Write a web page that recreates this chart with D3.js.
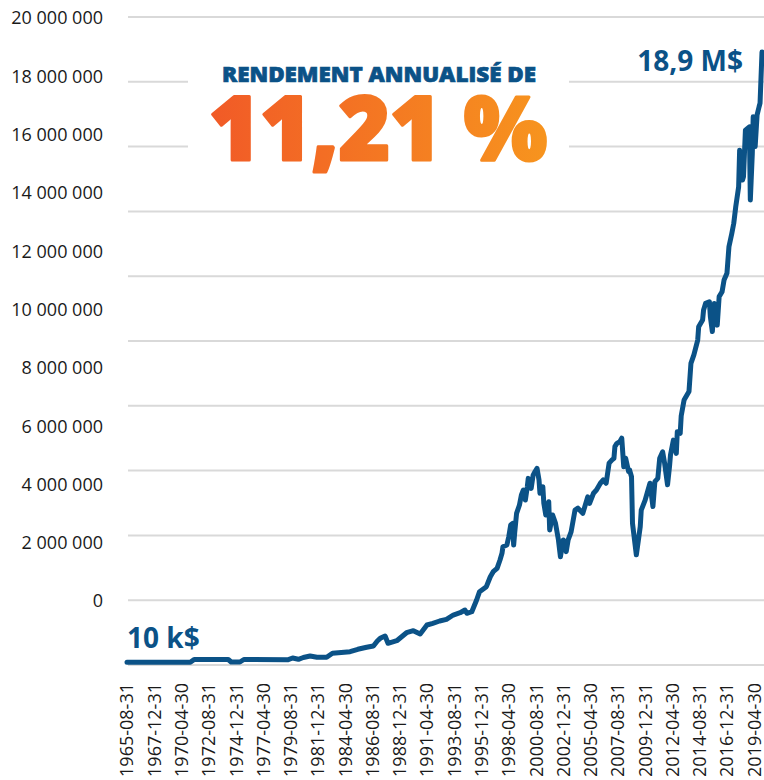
<!DOCTYPE html>
<html><head><meta charset="utf-8">
<script src="https://cdn.jsdelivr.net/npm/d3@7"></script>
<style>body{margin:0;background:#fff} svg{display:block}</style>
</head><body><svg id="c" width="764" height="780"></svg>
<script>
const months = ["1965-08","1968-06","1971-01","1971-05","1974-04","1974-07","1975-04","1975-08","1979-05","1979-10",
"1980-04","1980-09","1981-04","1981-11","1982-09","1983-03","1984-09","1985-05","1986-02","1986-09",
"1987-01","1987-04","1987-09","1987-12","1988-09","1989-07","1990-02","1990-09","1991-04","1991-10",
"1992-05","1992-12","1993-07","1994-02","1994-07","1994-09","1995-02","1995-07","1995-10","1996-05",
"1996-09","1996-12","1997-04","1997-07","1997-09","1997-10","1998-02","1998-04","1998-06","1998-08",
"1998-09","1998-10","1998-12","1999-03","1999-05","1999-07","1999-09","1999-11","1999-12","2000-03",
"2000-05","2000-07","2000-09","2000-11","2000-12","2001-03","2001-04","2001-06","2001-09","2001-10",
"2002-01","2002-04","2002-07","2002-09","2002-12","2003-03","2003-05","2003-08","2003-12","2004-03",
"2004-08","2005-01","2005-03","2005-07","2005-10","2006-02","2006-05","2006-08","2006-11","2007-02",
"2007-04","2007-05","2007-07","2007-10","2007-12","2008-02","2008-04","2008-07","2008-08","2008-10",
"2008-11","2009-03","2009-07","2009-08","2009-12","2010-03","2010-05","2010-08","2010-10","2011-01",
"2011-03","2011-06","2011-08","2011-11","2012-01","2012-02","2012-05","2012-08","2012-09","2012-12",
"2013-01","2013-04","2013-09","2013-11","2014-02","2014-06","2014-07","2014-11","2014-12","2015-02",
"2015-06","2015-07","2015-09","2015-11","2015-12","2016-02","2016-04","2016-07","2016-09","2016-12",
"2017-02","2017-05","2017-07","2017-09","2017-12","2018-01","2018-04","2018-05","2018-07","2018-11",
"2018-12","2019-02","2019-03","2019-05","2019-07","2019-09","2019-10","2019-12"];
const values = [83000,83000,83000,170000,170000,93000,93000,170000,160000,216000,
176000,231000,278000,238000,238000,361000,410000,485000,546000,586000,
741000,824000,895000,670000,750000,997000,1059000,957000,1235000,1287000,
1358000,1410000,1543000,1614000,1697000,1596000,1645000,2006000,2262000,2417000,
2725000,2880000,2984000,3241000,3447000,3651000,3704000,3960000,4320000,4370000,
3700000,4060000,4680000,4940000,5250000,5400000,5090000,5500000,5760000,5450000,
5860000,5970000,6070000,5710000,5300000,5500000,4990000,4630000,5040000,4170000,
4630000,4370000,3860000,3340000,3860000,3500000,3860000,4110000,4780000,4840000,
4680000,5190000,4990000,5300000,5400000,5610000,5710000,5610000,6230000,6330000,
6380000,6740000,6840000,6890000,7000000,6120000,6380000,5970000,6020000,5810000,
4370000,3400000,4270000,4780000,5090000,5400000,5610000,4890000,5660000,5760000,
6380000,6580000,6230000,5560000,6120000,6480000,6940000,6530000,7200000,7150000,
7690000,8180000,8440000,9310000,9570000,10030000,10440000,10650000,10960000,11160000,
11210000,10750000,10290000,11160000,11060000,10490000,11370000,11520000,11880000,12090000,
12910000,13320000,13630000,14140000,14760000,15890000,14970000,15070000,16510000,16610000,
14350000,15790000,16920000,16000000,16980000,17230000,17340000,18920000];
const yTicks = [0,2000000,4000000,6000000,8000000,10000000,12000000,14000000,16000000,18000000,20000000];
const xTickLabels = ["1965-08-31","1967-12-31","1970-04-30","1972-08-31","1974-12-31","1977-04-30",
"1979-08-31","1981-12-31","1984-04-30","1986-08-31","1988-12-31","1991-04-30","1993-08-31",
"1995-12-31","1998-04-30","2000-08-31","2002-12-31","2005-04-30","2007-08-31","2009-12-31",
"2012-04-30","2014-08-31","2016-12-31","2019-04-30"];
const titleText = "RENDEMENT ANNUALISÉ DE";
const bigText = "11,21 %";
const startText = "10 k$";
const endText = "18,9 M$";

const svg = d3.select("#c");
const parseM = d3.timeParse("%Y-%m");
const parseD = d3.timeParse("%Y-%m-%d");
const data = months.map((m, i) => ({date: parseM(m), value: values[i]}));

const x = d3.scaleTime().domain([parseM("1965-08"), parseM("2019-12")]).range([127, 762]);
const y = d3.scaleLinear().domain([0, 20000000]).range([665, 17]);
const yLab = d3.scaleLinear().domain([0, 20000000]).range([601, 18]);
const fmt = d3.formatLocale({decimal: ",", thousands: " ", grouping: [3], currency: ["", "$"]}).format(",d");

const FONT = "'Open Sans', 'Noto Sans', sans-serif";
const BLUE = "#0b5287";

// gradient
const defs = svg.append("defs");
const grad = defs.append("linearGradient").attr("id", "og").attr("x1", "0").attr("x2", "1").attr("y1", "0").attr("y2", "0");
grad.append("stop").attr("offset", "0").attr("stop-color", "#f15a27");
grad.append("stop").attr("offset", "1").attr("stop-color", "#f7941e");

// gridlines
svg.append("g").selectAll("line").data(yTicks).join("line")
  .attr("x1", 128).attr("x2", 764)
  .attr("y1", d => y(d)).attr("y2", d => y(d))
  .attr("stroke", "#d9d9d9").attr("stroke-width", 2);

// y labels
svg.append("g").selectAll("text").data(yTicks).join("text")
  .attr("x", 103).attr("y", d => yLab(d)).attr("dy", "0.36em")
  .attr("text-anchor", "end")
  .attr("font-family", FONT).attr("font-size", 18).attr("fill", "#1a1a1a")
  .text(d => fmt(d));

// x labels
const xg = svg.append("g");
xg.selectAll("text").data(xTickLabels).join("text")
  .attr("transform", d => `translate(${x(d3.timeMonth.floor(parseD(d)))},683) rotate(-90)`)
  .attr("dy", "0.36em").attr("text-anchor", "end")
  .attr("font-family", FONT).attr("font-size", 18).attr("fill", "#1a1a1a")
  .text(d => d);

// title box
svg.append("rect").attr("x", 188).attr("y", 28).attr("width", 381).attr("height", 172).attr("fill", "#fff");
svg.append("text").attr("x", 222).attr("y", 82)
  .attr("textLength", 314).attr("lengthAdjust", "spacingAndGlyphs")
  .attr("font-family", FONT).attr("font-weight", 800).attr("font-size", 21)
  .attr("fill", BLUE).attr("stroke", BLUE).attr("stroke-width", 0.7).text(titleText);
svg.append("text").attr("x", 209).attr("y", 160)
  .attr("textLength", 338).attr("lengthAdjust", "spacingAndGlyphs")
  .attr("font-family", FONT).attr("font-weight", 800).attr("font-size", 88)
  .attr("fill", "url(#og)").attr("stroke", "url(#og)").attr("stroke-width", 3)
  .attr("stroke-linejoin", "round").text(bigText);

// line
const line = d3.line().x(d => x(d.date)).y(d => y(d.value));
svg.append("path").datum(data).attr("d", line)
  .attr("fill", "none").attr("stroke", BLUE).attr("stroke-width", 5)
  .attr("stroke-linejoin", "round").attr("stroke-linecap", "round");

// annotations
svg.append("text").attr("x", 127).attr("y", 648)
  .attr("font-family", FONT).attr("font-weight", 700).attr("font-size", 28)
  .attr("fill", BLUE).text(startText);
svg.append("text").attr("x", 743).attr("y", 71).attr("text-anchor", "end")
  .attr("font-family", FONT).attr("font-weight", 700).attr("font-size", 28)
  .attr("fill", BLUE).text(endText);
</script></body></html>
